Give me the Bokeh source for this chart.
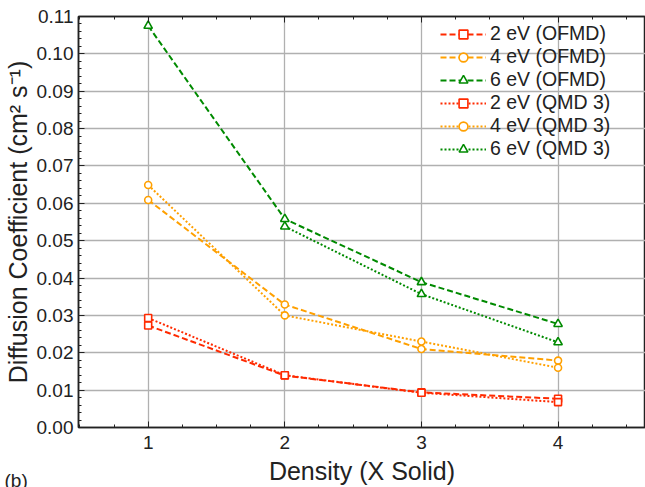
from bokeh.plotting import figure
from bokeh.models import Range1d, LinearAxis, Title, FixedTicker, NumeralTickFormatter, Legend
from bokeh.embed import file_html
from bokeh.resources import INLINE
import numpy as np

density = [1, 2, 3, 4]
ofmd_2ev = [0.0273, 0.0139, 0.0094, 0.0077]
ofmd_4ev = [0.0609, 0.0329, 0.0210, 0.0179]
ofmd_6ev = [0.1075, 0.0558, 0.0389, 0.0277]
qmd_2ev = [0.0293, 0.0140, 0.0093, 0.0068]
qmd_4ev = [0.0649, 0.0300, 0.0230, 0.0160]
qmd_6ev = [np.nan, 0.0538, 0.0357, 0.0228]

y_ticks = [round(0.01 * i, 2) for i in range(12)]
x_ticks = [1, 2, 3, 4]

RED = "#ff2a00"
ORANGE = "#ffa000"
GREEN = "#008a00"
FONT = "Liberation Sans"
TXT = "#222222"

p = figure(width=645, height=487, output_backend="svg", toolbar_location=None,
           x_range=Range1d(0.49, 4.64), y_range=Range1d(0, 0.11),
           min_border_left=77, min_border_right=0, min_border_top=16, min_border_bottom=0)
p.background_fill_color = "white"
p.border_fill_color = "white"
p.outline_line_color = "#222222"
p.outline_line_width = 1.5

series = [
    (ofmd_2ev, RED, "6 3", "square", "2 eV (OFMD)"),
    (ofmd_4ev, ORANGE, "6 3", "circle", "4 eV (OFMD)"),
    (ofmd_6ev, GREEN, "6 3", "triangle", "6 eV (OFMD)"),
    (qmd_2ev, RED, "2 2", "square", "2 eV (QMD 3)"),
    (qmd_4ev, ORANGE, "2 2", "circle", "4 eV (QMD 3)"),
    (qmd_6ev, GREEN, "2 2", "triangle", "6 eV (QMD 3)"),
]
items = []
for vals, col, dash, mk, lab in series:
    r1 = p.line(density, vals, line_color=col, line_width=2, line_dash=dash)
    r2 = p.scatter(density, vals, marker=mk, size=7 if mk != "triangle" else 8.5,
                   line_color=col, line_width=1.6, fill_color="white")
    items.append((lab, [r1, r2]))

legend = Legend(items=items, location=(360, 265))
legend.background_fill_alpha = 0
legend.border_line_alpha = 0
legend.label_text_font = FONT
legend.label_text_font_size = "19.5px"
legend.label_text_color = TXT
legend.glyph_width = 46
legend.glyph_height = 22
legend.label_height = 22
legend.spacing = -1
legend.label_standoff = 4
legend.padding = 2
p.add_layout(legend, "center")

xa = p.xaxis[0]
ya = p.yaxis[0]
xminor = list(np.arange(0.5, 4.76, 0.25))
xa.ticker = FixedTicker(ticks=x_ticks, minor_ticks=xminor)
ya.ticker = FixedTicker(ticks=y_ticks, minor_ticks=list(np.arange(0, 0.1101, 0.002)))
ya.formatter = NumeralTickFormatter(format="0.00")
for ax in (xa, ya):
    ax.major_tick_in = 6
    ax.major_tick_out = 0
    ax.minor_tick_in = 3
    ax.minor_tick_out = 0
    ax.axis_line_color = "#222222"
    ax.axis_line_width = 1.5
    ax.major_tick_line_color = "#222222"
    ax.minor_tick_line_color = "#222222"
    ax.major_label_text_font = FONT
    ax.major_label_text_font_size = "19px"
    ax.major_label_text_color = TXT
    ax.axis_label_text_font = FONT
    ax.axis_label_text_font_size = "25px"
    ax.axis_label_text_font_style = "normal"
    ax.axis_label_text_color = TXT
xa.axis_label = "Density (X Solid)"
ya.axis_label = "Diffusion Coefficient (cm² s⁻¹)"
xa.major_label_standoff = 8
xa.axis_label_standoff = 5
ya.major_label_standoff = 5
ya.axis_label_standoff = 2

top = LinearAxis(ticker=FixedTicker(ticks=x_ticks, minor_ticks=xminor),
                 major_label_overrides={1: "", 2: "", 3: "", 4: ""},
                 major_label_text_font_size="1px", major_tick_in=6, major_tick_out=0,
                 minor_tick_in=3, minor_tick_out=0, axis_line_color="#222222",
                 axis_line_width=1.5, major_label_standoff=0,
                 major_tick_line_color="#222222", minor_tick_line_color="#222222")
p.add_layout(top, "above")

p.xgrid.ticker = FixedTicker(ticks=x_ticks)
p.ygrid.ticker = FixedTicker(ticks=y_ticks)
p.xgrid.grid_line_color = "#b0b0b0"
p.ygrid.grid_line_color = "#b0b0b0"
p.xgrid.grid_line_width = 1.3
p.ygrid.grid_line_width = 1.3

tag = Title(text="(b)\n", align="left", vertical_align="bottom", offset=-74, standoff=-48,
            text_font=FONT, text_font_size="19px", text_font_style="normal", text_color=TXT)
p.add_layout(tag, "below")

open("out.html", "w").write(file_html(p, INLINE))
